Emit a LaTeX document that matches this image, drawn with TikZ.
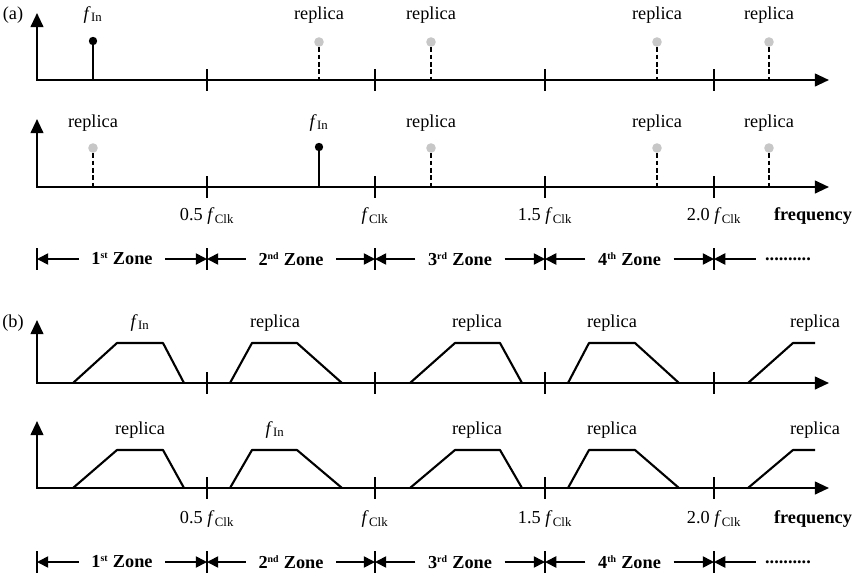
\documentclass[tikz,border=0pt]{standalone}
\usepackage{fontspec}
\setmainfont{Liberation Serif}
\usetikzlibrary{arrows.meta}
\newcommand{\fin}{\textit{f}\kern0.3pt\textsubscript{In}}
\newcommand{\fclk}{\textit{f}\kern0.3pt\textsubscript{Clk}}
\newcommand{\zsup}[1]{\textsuperscript{\scriptsize #1}}

\begin{document}
\begin{tikzpicture}[
  x=0.25mm, y=-0.25mm, font=\fontsize{13}{15}\selectfont,
  axis/.style={line width=1.5pt, line join=miter, {Triangle[length=10pt,width=9pt]}-{Triangle[length=10pt,width=9pt]}},
  tickmark/.style={line width=1.4pt},
  stem/.style={line width=1.5pt},
  ghost/.style={line width=1.4pt, dash pattern=on 3.5pt off 1.8pt},
  dot/.style={circle, fill=black, inner sep=0pt, minimum size=2.1mm},
  gdot/.style={circle, fill=black!22, inner sep=0pt, minimum size=2.4mm},
  lab/.style={anchor=base, inner sep=0pt},
  band/.style={line width=1.5pt, line join=round},
  zone/.style={font=\fontsize{13}{15}\selectfont\bfseries, inner sep=0pt, outer sep=3.2mm},
  zarr/.style={line width=1.2pt, -{Triangle[length=8pt,width=8pt]}}]
\useasboundingbox (0,0) rectangle (860,579);
% (a) row 1: input tone in 1st zone
\node[lab] (pa) at (13,19) {(a)};
\draw[axis] (37,13) -- (37,80) -- (829,80);
\foreach \x in {207,375,545,714} \draw[tickmark] (\x,69) -- (\x,91);
\node[dot] (inA) at (93,41) {}; \draw[stem] (inA.center) -- (93,80);
\node[gdot] (rA1) at (319,42) {}; \draw[ghost] (rA1.south) -- (319,80);
\node[gdot] (rA2) at (431,42) {}; \draw[ghost] (rA2.south) -- (431,80);
\node[gdot] (rA3) at (657,42) {}; \draw[ghost] (rA3.south) -- (657,80);
\node[gdot] (rA4) at (769,42) {}; \draw[ghost] (rA4.south) -- (769,80);
\node[lab] (lA0) at (93,19) {\fin};
\node[lab] (lA1) at (319,19) {replica}; \node[lab] (lA2) at (431,19) {replica};
\node[lab] (lA3) at (657,19) {replica}; \node[lab] (lA4) at (769,19) {replica};
% (a) row 2: input tone in 2nd zone
\draw[axis] (37,119) -- (37,187) -- (829,187);
\foreach \x in {207,375,545,714} \draw[tickmark] (\x,176) -- (\x,198);
\node[dot] (inB) at (319,147) {}; \draw[stem] (inB.center) -- (319,187);
\node[gdot] (rB1) at (93,148) {}; \draw[ghost] (rB1.south) -- (93,187);
\node[gdot] (rB2) at (431,148) {}; \draw[ghost] (rB2.south) -- (431,187);
\node[gdot] (rB3) at (657,148) {}; \draw[ghost] (rB3.south) -- (657,187);
\node[gdot] (rB4) at (769,148) {}; \draw[ghost] (rB4.south) -- (769,187);
\node[lab] (lB0) at (319,127) {\fin};
\node[lab] (lB1) at (93,127) {replica}; \node[lab] (lB2) at (431,127) {replica};
\node[lab] (lB3) at (657,127) {replica}; \node[lab] (lB4) at (769,127) {replica};
% (a) frequency labels and Nyquist zones
\node[lab] (tA1) at (207,220) {0.5 \fclk}; \node[lab] (tA2) at (375,220) {\fclk};
\node[lab] (tA3) at (545,220) {1.5 \fclk}; \node[lab] (tA4) at (714,220) {2.0 \fclk};
\node[lab, font=\fontsize{13}{15}\selectfont\bfseries] (fqA) at (813,220) {frequency};
\coordinate (a0) at (37,259); \coordinate (a1) at (207,259); \coordinate (a2) at (375,259);
\coordinate (a3) at (545,259); \coordinate (a4) at (714,259);
\foreach \x in {37,207,375,545,714} \draw[tickmark] (\x,248) -- (\x,270);
\node[zone] (zA1) at (122,259) {1\zsup{st} Zone};
\node[zone] (zA2) at (291,259) {2\zsup{nd} Zone};
\node[zone] (zA3) at (460,259) {3\zsup{rd} Zone};
\node[zone] (zA4) at (629.5,259) {4\zsup{th} Zone};
\node[zone, outer sep=2.4mm] (zA5) at (788,259) {..........};
\draw[zarr] (zA1) -- (a0); \draw[zarr] (zA1) -- (a1); \draw[zarr] (zA2) -- (a1); \draw[zarr] (zA2) -- (a2);
\draw[zarr] (zA3) -- (a2); \draw[zarr] (zA3) -- (a3); \draw[zarr] (zA4) -- (a3); \draw[zarr] (zA4) -- (a4);
\draw[zarr] (zA5) -- (a4);
% (b) row 1: input band in 1st zone
\node[lab] (pb) at (13,327) {(b)};
\draw[axis] (37,320) -- (37,383) -- (829,383);
\foreach \x in {207,375,545,714} \draw[tickmark] (\x,372) -- (\x,394);
\draw[band] (73,383) -- (117,343) -- (163,343) -- (184,383);
\draw[band] (230,383) -- (252,343) -- (297,343) -- (342,383);
\draw[band] (410,383) -- (455,343) -- (500,343) -- (522,383);
\draw[band] (568,383) -- (589,343) -- (635,343) -- (679,383);
\draw[band] (748,383) -- (793,343) -- (815,343);
\node[lab] (lC0) at (140,327) {\fin};
\node[lab] (lC1) at (275,327) {replica}; \node[lab] (lC2) at (477,327) {replica};
\node[lab] (lC3) at (612,327) {replica}; \node[lab] (lC4) at (815,327) {replica};
% (b) row 2: input band in 2nd zone
\draw[axis] (37,421) -- (37,488) -- (829,488);
\foreach \x in {207,375,545,714} \draw[tickmark] (\x,477) -- (\x,499);
\draw[band] (73,488) -- (117,450) -- (163,450) -- (184,488);
\draw[band] (230,488) -- (252,450) -- (297,450) -- (342,488);
\draw[band] (410,488) -- (455,450) -- (500,450) -- (522,488);
\draw[band] (568,488) -- (589,450) -- (635,450) -- (679,488);
\draw[band] (748,488) -- (793,450) -- (815,450);
\node[lab] (lD0) at (275,434) {\fin};
\node[lab] (lD1) at (140,434) {replica}; \node[lab] (lD2) at (477,434) {replica};
\node[lab] (lD3) at (612,434) {replica}; \node[lab] (lD4) at (815,434) {replica};
% (b) frequency labels and Nyquist zones
\node[lab] (tB1) at (207,523) {0.5 \fclk}; \node[lab] (tB2) at (375,523) {\fclk};
\node[lab] (tB3) at (545,523) {1.5 \fclk}; \node[lab] (tB4) at (714,523) {2.0 \fclk};
\node[lab, font=\fontsize{13}{15}\selectfont\bfseries] (fqB) at (813,523) {frequency};
\coordinate (b0) at (37,562); \coordinate (b1) at (207,562); \coordinate (b2) at (375,562);
\coordinate (b3) at (545,562); \coordinate (b4) at (714,562);
\foreach \x in {37,207,375,545,714} \draw[tickmark] (\x,551) -- (\x,573);
\node[zone] (zB1) at (122,562) {1\zsup{st} Zone};
\node[zone] (zB2) at (291,562) {2\zsup{nd} Zone};
\node[zone] (zB3) at (460,562) {3\zsup{rd} Zone};
\node[zone] (zB4) at (629.5,562) {4\zsup{th} Zone};
\node[zone, outer sep=2.4mm] (zB5) at (788,562) {..........};
\draw[zarr] (zB1) -- (b0); \draw[zarr] (zB1) -- (b1); \draw[zarr] (zB2) -- (b1); \draw[zarr] (zB2) -- (b2);
\draw[zarr] (zB3) -- (b2); \draw[zarr] (zB3) -- (b3); \draw[zarr] (zB4) -- (b3); \draw[zarr] (zB4) -- (b4);
\draw[zarr] (zB5) -- (b4);
\end{tikzpicture}
\end{document}
